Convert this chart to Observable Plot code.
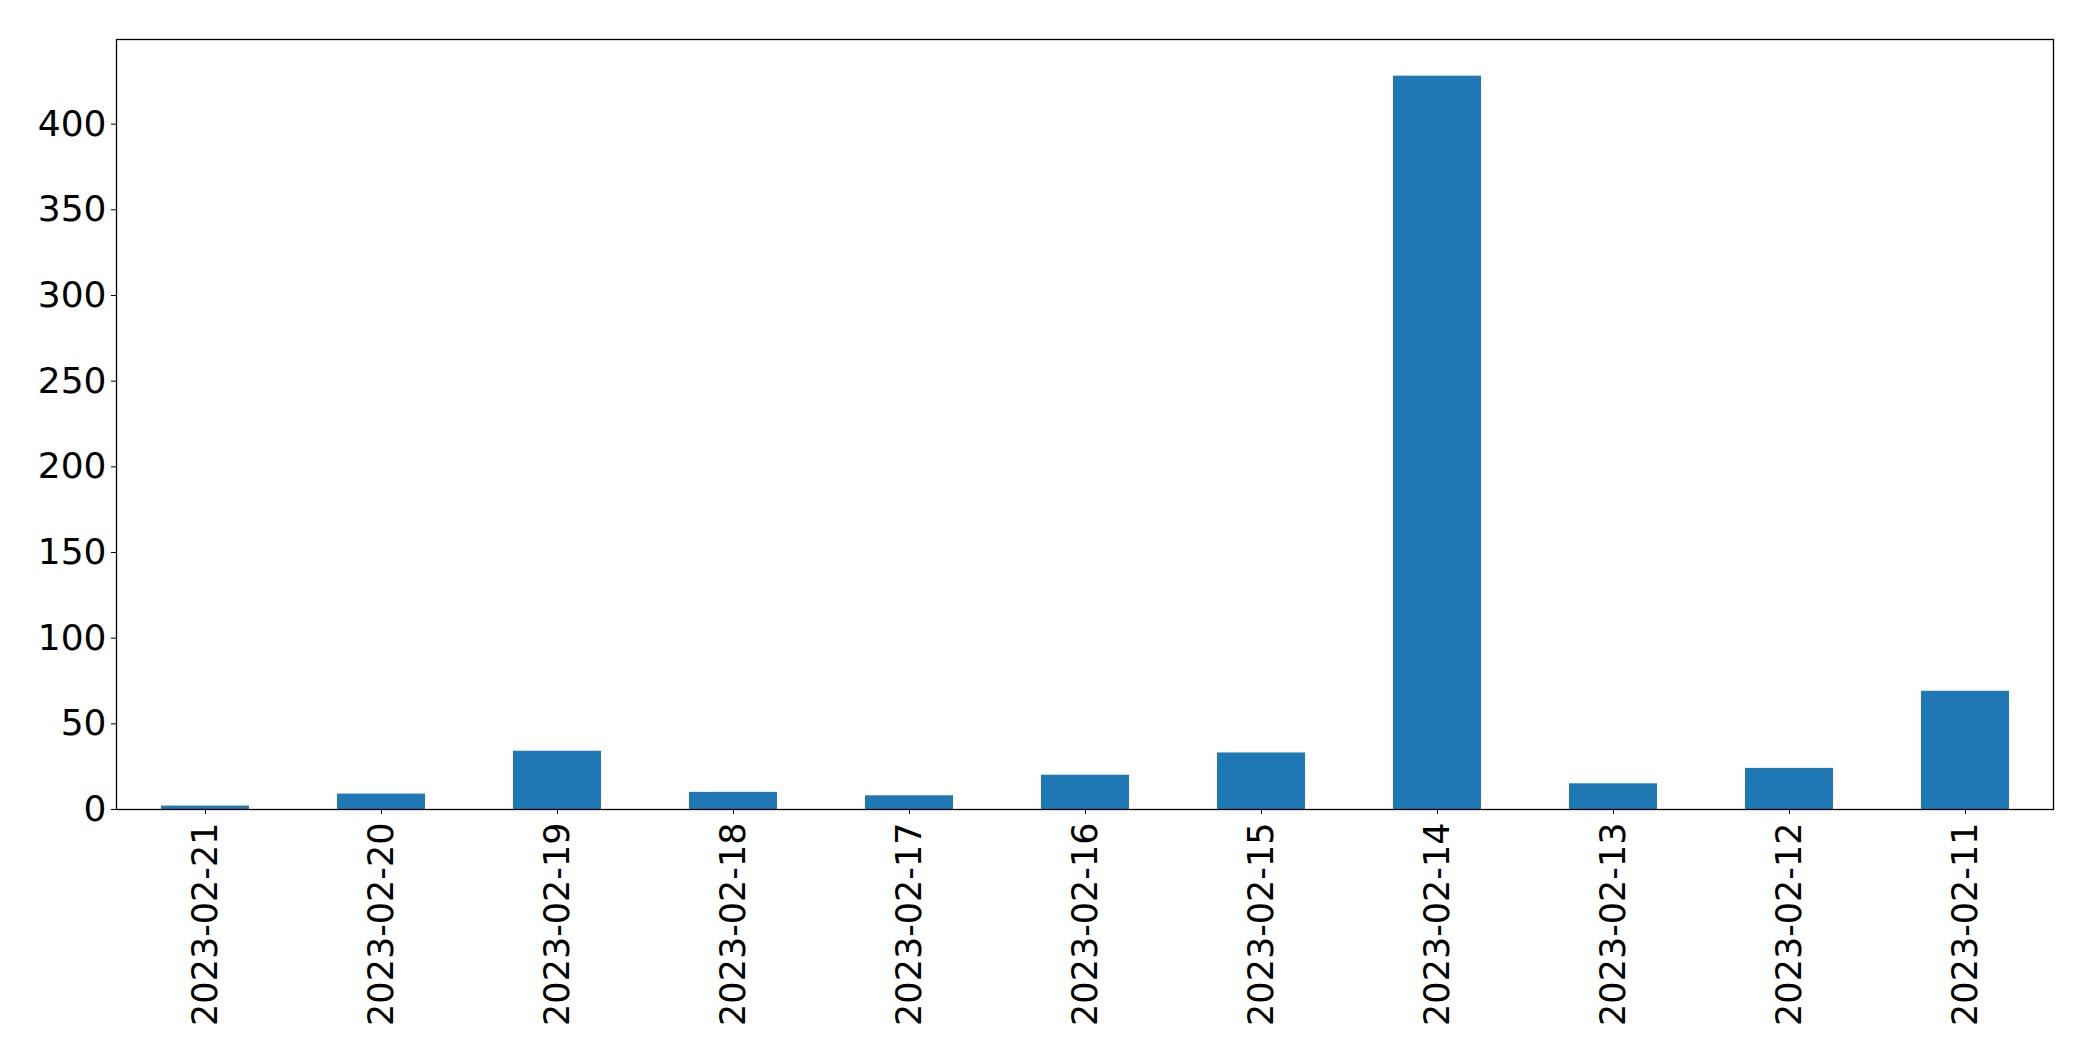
<!DOCTYPE html>
<html>
<head>
<meta charset="utf-8">
<script src="https://cdn.jsdelivr.net/npm/d3@7"></script>
<script src="https://cdn.jsdelivr.net/npm/@observablehq/plot@0.6"></script>
<style>
  html, body { margin: 0; padding: 0; background: #fff; }
  #chart svg { display: block; }
</style>
</head>
<body>
<div id="chart"></div>
<script>
const dates = ["2023-02-21","2023-02-20","2023-02-19","2023-02-18","2023-02-17","2023-02-16","2023-02-15","2023-02-14","2023-02-13","2023-02-12","2023-02-11"];
const counts = [2, 9, 34, 10, 8, 20, 33, 428, 15, 24, 69];
const yTicks = [0, 50, 100, 150, 200, 250, 300, 350, 400];

const data = dates.map((d, i) => ({date: d, value: counts[i]}));
const ymax = d3.max(counts) * 1.05;

const chart = Plot.plot({
  width: 2093,
  height: 1061,
  marginLeft: 116,
  marginRight: 40,
  marginTop: 39,
  marginBottom: 252,
  style: {fontFamily: "DejaVu Sans", fontSize: "35px", color: "#000", background: "#fff"},
  x: {domain: dates, paddingInner: 0.5, paddingOuter: 0.25, label: null},
  y: {domain: [0, ymax], label: null},
  marks: [
    Plot.barY(data, {x: "date", y: "value", fill: "#1f77b4"}),
    Plot.axisY({ticks: yTicks, tickSize: 5, tickPadding: 5, label: null, fontSize: 36}),
    Plot.axisX({tickSize: 5, tickPadding: 8, tickRotate: -90, label: null, fontSize: 35}),
    Plot.frame({stroke: "#000", strokeWidth: 1.3})
  ]
});
document.getElementById("chart").appendChild(chart);
</script>
</body>
</html>
